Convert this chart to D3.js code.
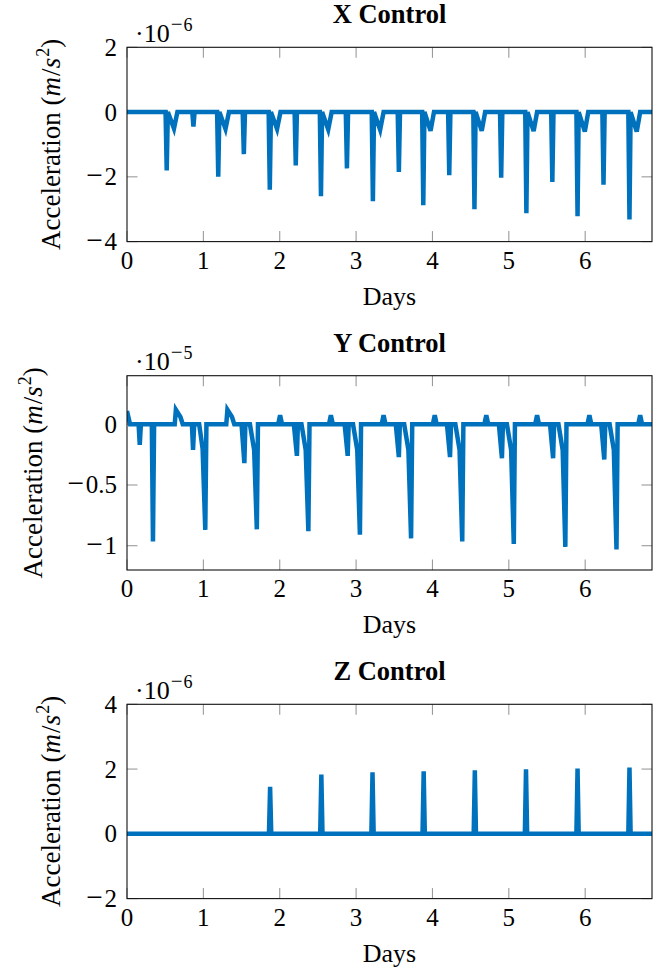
<!DOCTYPE html>
<html>
<head>
<meta charset="utf-8">
<script src="https://cdn.jsdelivr.net/npm/d3@7"></script>
<style>
  body { margin: 0; background: #fff; }
  svg { display: block; }
</style>
</head>
<body>
<svg id="fig" width="670" height="975"></svg>
<script>
// ---- data -------------------------------------------------------------
// Control accelerations over the mission, sampled as [day, value] vertices.
const dayTicks = [0, 1, 2, 3, 4, 5, 6];
const dayMax = 6.875;

// X control, units of 1e-6 m/s^2
const xControl = [
  [0, 0],
  [0.505, 0], [0.52, -1.8], [0.535, 0], [0.615, -0.51], [0.66, 0],
  [0.855, 0], [0.87, -0.45], [0.885, 0],
  [1.18, 0], [1.195, -2.0], [1.21, 0], [1.29, -0.52], [1.335, 0],
  [1.515, 0], [1.53, -1.3], [1.545, 0],
  [1.855, 0], [1.87, -2.4], [1.885, 0], [1.965, -0.52], [2.01, 0],
  [2.195, 0], [2.21, -1.65], [2.225, 0],
  [2.525, 0], [2.54, -2.6], [2.555, 0], [2.635, -0.54], [2.68, 0],
  [2.865, 0], [2.88, -1.74], [2.895, 0],
  [3.205, 0], [3.22, -2.75], [3.235, 0], [3.315, -0.55], [3.36, 0],
  [3.545, 0], [3.56, -1.85], [3.575, 0],
  [3.865, 0], [3.88, -2.88], [3.895, 0], [3.975, -0.58], [4.02, 0],
  [4.205, 0], [4.22, -1.95], [4.235, 0],
  [4.535, 0], [4.55, -3.0], [4.565, 0], [4.645, -0.58], [4.69, 0],
  [4.885, 0], [4.9, -2.03], [4.915, 0],
  [5.215, 0], [5.23, -3.12], [5.245, 0], [5.325, -0.59], [5.37, 0],
  [5.555, 0], [5.57, -2.16], [5.585, 0],
  [5.885, 0], [5.9, -3.22], [5.915, 0], [5.995, -0.6], [6.04, 0],
  [6.225, 0], [6.24, -2.24], [6.255, 0],
  [6.565, 0], [6.58, -3.32], [6.595, 0], [6.675, -0.6], [6.72, 0],
  [6.875, 0]
];

// Y control, units of 1e-5 m/s^2
const yControl = [
  [0, 0.11], [0.04, 0],
  [0.152, 0], [0.167, -0.17], [0.182, 0],
  [0.325, 0], [0.34, -0.965], [0.355, 0],
  [0.625, 0], [0.64, 0.12], [0.70, 0.06], [0.73, 0],
  [0.85, 0], [0.865, -0.21], [0.88, 0],
  [0.945, 0], [0.99, -0.2], [1.025, -0.87], [1.04, 0],
  [1.30, 0], [1.315, 0.12], [1.375, 0.06], [1.405, 0],
  [1.50, 0], [1.537, -0.32], [1.55, 0],
  [1.61, 0], [1.665, -0.21], [1.70, -0.865], [1.715, 0],
  [1.98, 0], [2.005, 0.075], [2.03, 0],
  [2.185, 0], [2.225, -0.26], [2.238, 0],
  [2.285, 0], [2.34, -0.21], [2.375, -0.88], [2.39, 0],
  [2.645, 0], [2.67, 0.075], [2.695, 0],
  [2.85, 0], [2.89, -0.26], [2.903, 0],
  [2.96, 0], [3.015, -0.21], [3.05, -0.91], [3.065, 0],
  [3.335, 0], [3.36, 0.075], [3.385, 0],
  [3.52, 0], [3.56, -0.27], [3.573, 0],
  [3.63, 0], [3.685, -0.21], [3.72, -0.94], [3.735, 0],
  [4.005, 0], [4.03, 0.075], [4.055, 0],
  [4.19, 0], [4.23, -0.27], [4.243, 0],
  [4.30, 0], [4.355, -0.21], [4.39, -0.965], [4.405, 0],
  [4.68, 0], [4.705, 0.075], [4.73, 0],
  [4.87, 0], [4.91, -0.28], [4.923, 0],
  [4.975, 0], [5.03, -0.21], [5.065, -0.986], [5.08, 0],
  [5.345, 0], [5.37, 0.075], [5.395, 0],
  [5.54, 0], [5.58, -0.28], [5.593, 0],
  [5.65, 0], [5.705, -0.21], [5.74, -1.01], [5.755, 0],
  [6.03, 0], [6.055, 0.075], [6.08, 0],
  [6.21, 0], [6.25, -0.29], [6.263, 0],
  [6.32, 0], [6.375, -0.21], [6.41, -1.03], [6.425, 0],
  [6.695, 0], [6.72, 0.075], [6.745, 0],
  [6.875, 0]
];

// Z control, units of 1e-6 m/s^2
const zControl = [
  [0, 0],
  [1.859, 0], [1.874, 1.45], [1.889, 0],
  [2.53, 0], [2.545, 1.83], [2.56, 0],
  [3.2, 0], [3.215, 1.9], [3.23, 0],
  [3.87, 0], [3.885, 1.93], [3.9, 0],
  [4.54, 0], [4.555, 1.96], [4.57, 0],
  [5.21, 0], [5.225, 1.99], [5.24, 0],
  [5.885, 0], [5.90, 2.02], [5.915, 0],
  [6.565, 0], [6.58, 2.05], [6.595, 0],
  [6.875, 0]
];

const xTicksY = [-4, -2, 0, 2];
const yTicksY = [-1, -0.5, 0];
const zTicksY = [-2, 0, 2, 4];

const panels = [
  { title: "X Control", series: xControl, yDomain: [-4, 2],     yTicks: xTicksY, exponent: "6" },
  { title: "Y Control", series: yControl, yDomain: [-1.2, 0.4], yTicks: yTicksY, exponent: "5" },
  { title: "Z Control", series: zControl, yDomain: [-2, 4],     yTicks: zTicksY, exponent: "6" }
];

// ---- layout -------------------------------------------------------------
const FONT = '"Liberation Serif", "Times New Roman", Times, serif';
const LINE = "#0072BD";
const MINUS = "\u2212";
const plotLeft = 127, plotRight = 652;
const plotTops = [47.3, 375.7, 704.3];
const plotHeight = 194.3;
const tickLen = 10.5;
const tickFont = 25, labelFont = 27, titleFont = 26.5;

const svg = d3.select("#fig").style("font-family", FONT);

// numbers with a wide math-style minus sign
function writeNumber(sel, v, size) {
  const s = String(Math.abs(v));
  if (v < 0) {
    sel.append("tspan").attr("font-size", size * 1.18).text(MINUS);
    sel.append("tspan").attr("dx", 1.5).text(s);
  } else {
    sel.append("tspan").text(s);
  }
}

panels.forEach((p, i) => {
  const top = plotTops[i], bottom = top + plotHeight;
  const x = d3.scaleLinear().domain([0, dayMax]).range([plotLeft, plotRight]);
  const y = d3.scaleLinear().domain(p.yDomain).range([bottom, top]);
  const g = svg.append("g");

  // clip region for the data line
  const clipId = "clip" + i;
  svg.append("clipPath").attr("id", clipId)
    .append("rect").attr("x", plotLeft).attr("y", top)
    .attr("width", plotRight - plotLeft).attr("height", plotHeight);

  // inward ticks, all four sides
  const tickG = g.append("g").attr("stroke", "#9a9a9a").attr("stroke-width", 1.1);
  dayTicks.forEach(d => {
    const px = x(d);
    tickG.append("line").attr("x1", px).attr("x2", px).attr("y1", bottom).attr("y2", bottom - tickLen);
    tickG.append("line").attr("x1", px).attr("x2", px).attr("y1", top).attr("y2", top + tickLen);
  });
  p.yTicks.forEach(v => {
    const py = y(v);
    tickG.append("line").attr("x1", plotLeft).attr("x2", plotLeft + tickLen).attr("y1", py).attr("y2", py);
    tickG.append("line").attr("x1", plotRight).attr("x2", plotRight - tickLen).attr("y1", py).attr("y2", py);
  });

  // data line
  const line = d3.line().x(d => x(d[0])).y(d => y(d[1]));
  g.append("path")
    .datum(p.series)
    .attr("clip-path", `url(#${clipId})`)
    .attr("fill", "none")
    .attr("stroke", LINE)
    .attr("stroke-width", 4.5)
    .attr("stroke-linejoin", "miter")
    .attr("d", line);

  // frame
  g.append("rect")
    .attr("x", plotLeft).attr("y", top)
    .attr("width", plotRight - plotLeft).attr("height", plotHeight)
    .attr("fill", "none").attr("stroke", "#111").attr("stroke-width", 1.1);

  // x tick labels
  g.append("g").selectAll("text").data(dayTicks).join("text")
    .attr("x", d => x(d)).attr("y", bottom + 27)
    .attr("text-anchor", "middle").attr("font-size", tickFont)
    .each(function (d) { writeNumber(d3.select(this), d, tickFont); });

  // y tick labels
  const yl = g.append("g").selectAll("text").data(p.yTicks).join("text")
    .attr("x", plotLeft - 10).attr("y", d => y(d) + 8.5)
    .attr("text-anchor", "end").attr("font-size", tickFont)
    .each(function (d) { writeNumber(d3.select(this), d, tickFont); });

  let minLeft = plotLeft - 10;
  yl.each(function () { minLeft = Math.min(minLeft, this.getBBox().x); });

  // y axis label
  const lx = minLeft - 26;
  const cy = (top + bottom) / 2;
  const lab = g.append("text")
    .attr("transform", `translate(${lx},${cy}) rotate(-90)`)
    .attr("text-anchor", "middle").attr("font-size", labelFont);
  lab.append("tspan").text("Acceleration (");
  lab.append("tspan").attr("font-style", "italic").text("m");
  lab.append("tspan").attr("dx", 1).text("/");
  lab.append("tspan").attr("font-style", "italic").text("s");
  lab.append("tspan").attr("font-size", 18).attr("dy", -11).attr("dx", 1).text("2");
  lab.append("tspan").attr("dy", 11).text(")");

  // x axis label
  g.append("text")
    .attr("x", (plotLeft + plotRight) / 2).attr("y", bottom + 63)
    .attr("text-anchor", "middle").attr("font-size", 26)
    .text("Days");

  // title
  g.append("text")
    .attr("x", (plotLeft + plotRight) / 2).attr("y", top - 24)
    .attr("text-anchor", "middle").attr("font-size", titleFont)
    .attr("font-weight", "bold")
    .text(p.title);

  // scale multiplier
  const m = g.append("text")
    .attr("x", plotLeft + 8).attr("y", top - 5.5)
    .attr("font-size", 26);
  m.append("tspan").text("\u00B710");
  m.append("tspan").attr("font-size", 21).attr("dy", -11).attr("dx", 1).text(MINUS);
  m.append("tspan").attr("font-size", 18).attr("dx", 1).text(p.exponent);
});
</script>
</body>
</html>
